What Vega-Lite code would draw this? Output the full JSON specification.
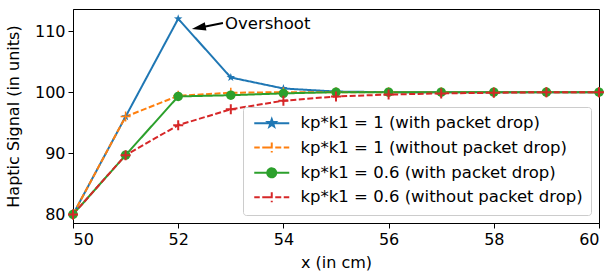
{
  "$schema": "https://vega.github.io/schema/vega-lite/v6.json",
  "width": 526,
  "height": 214,
  "autosize": "none",
  "padding": {"left": 73, "top": 9, "right": 14, "bottom": 55},
  "config": {
    "font": "DejaVu Sans",
    "view": {"stroke": "black", "strokeWidth": 1},
    "axis": {
      "grid": false,
      "domainColor": "black",
      "tickColor": "black",
      "labelColor": "black",
      "titleColor": "black",
      "labelFontSize": 16,
      "titleFontSize": 16,
      "titleFontWeight": "normal",
      "tickSize": 5,
      "labelPadding": 3
    }
  },
  "datasets": {
    "main": [
      {"x": 50, "y": 80, "s": "kp*k1 = 1 (with packet drop)"},
      {"x": 51, "y": 96, "s": "kp*k1 = 1 (with packet drop)"},
      {"x": 52, "y": 112, "s": "kp*k1 = 1 (with packet drop)"},
      {"x": 53, "y": 102.4, "s": "kp*k1 = 1 (with packet drop)"},
      {"x": 54, "y": 100.6, "s": "kp*k1 = 1 (with packet drop)"},
      {"x": 55, "y": 100.1, "s": "kp*k1 = 1 (with packet drop)"},
      {"x": 56, "y": 100, "s": "kp*k1 = 1 (with packet drop)"},
      {"x": 57, "y": 100, "s": "kp*k1 = 1 (with packet drop)"},
      {"x": 58, "y": 100, "s": "kp*k1 = 1 (with packet drop)"},
      {"x": 59, "y": 100, "s": "kp*k1 = 1 (with packet drop)"},
      {"x": 60, "y": 100, "s": "kp*k1 = 1 (with packet drop)"},
      {"x": 50, "y": 80, "s": "kp*k1 = 1 (without packet drop)"},
      {"x": 51, "y": 96, "s": "kp*k1 = 1 (without packet drop)"},
      {"x": 52, "y": 99.4, "s": "kp*k1 = 1 (without packet drop)"},
      {"x": 53, "y": 99.9, "s": "kp*k1 = 1 (without packet drop)"},
      {"x": 54, "y": 100, "s": "kp*k1 = 1 (without packet drop)"},
      {"x": 55, "y": 100, "s": "kp*k1 = 1 (without packet drop)"},
      {"x": 56, "y": 100, "s": "kp*k1 = 1 (without packet drop)"},
      {"x": 57, "y": 100, "s": "kp*k1 = 1 (without packet drop)"},
      {"x": 58, "y": 100, "s": "kp*k1 = 1 (without packet drop)"},
      {"x": 59, "y": 100, "s": "kp*k1 = 1 (without packet drop)"},
      {"x": 60, "y": 100, "s": "kp*k1 = 1 (without packet drop)"},
      {"x": 50, "y": 80, "s": "kp*k1 = 0.6 (with packet drop)"},
      {"x": 51, "y": 89.7, "s": "kp*k1 = 0.6 (with packet drop)"},
      {"x": 52, "y": 99.3, "s": "kp*k1 = 0.6 (with packet drop)"},
      {"x": 53, "y": 99.5, "s": "kp*k1 = 0.6 (with packet drop)"},
      {"x": 54, "y": 99.8, "s": "kp*k1 = 0.6 (with packet drop)"},
      {"x": 55, "y": 100, "s": "kp*k1 = 0.6 (with packet drop)"},
      {"x": 56, "y": 100, "s": "kp*k1 = 0.6 (with packet drop)"},
      {"x": 57, "y": 100, "s": "kp*k1 = 0.6 (with packet drop)"},
      {"x": 58, "y": 100, "s": "kp*k1 = 0.6 (with packet drop)"},
      {"x": 59, "y": 100, "s": "kp*k1 = 0.6 (with packet drop)"},
      {"x": 60, "y": 100, "s": "kp*k1 = 0.6 (with packet drop)"},
      {"x": 50, "y": 80, "s": "kp*k1 = 0.6 (without packet drop)"},
      {"x": 51, "y": 89.7, "s": "kp*k1 = 0.6 (without packet drop)"},
      {"x": 52, "y": 94.6, "s": "kp*k1 = 0.6 (without packet drop)"},
      {"x": 53, "y": 97.2, "s": "kp*k1 = 0.6 (without packet drop)"},
      {"x": 54, "y": 98.6, "s": "kp*k1 = 0.6 (without packet drop)"},
      {"x": 55, "y": 99.3, "s": "kp*k1 = 0.6 (without packet drop)"},
      {"x": 56, "y": 99.6, "s": "kp*k1 = 0.6 (without packet drop)"},
      {"x": 57, "y": 99.8, "s": "kp*k1 = 0.6 (without packet drop)"},
      {"x": 58, "y": 99.9, "s": "kp*k1 = 0.6 (without packet drop)"},
      {"x": 59, "y": 100, "s": "kp*k1 = 0.6 (without packet drop)"},
      {"x": 60, "y": 100, "s": "kp*k1 = 0.6 (without packet drop)"}
    ]
  },
  "encoding": {
    "x": {
      "field": "x", "type": "quantitative", "title": "x (in cm)",
      "scale": {"domain": [50, 60], "nice": false, "zero": false},
      "axis": {"values": [50, 52, 54, 56, 58, 60], "format": "d", "titlePadding": 7}
    },
    "y": {
      "field": "y", "type": "quantitative", "title": "Haptic Signal (in units)",
      "scale": {"domain": [78.6, 113.6], "nice": false, "zero": false},
      "axis": {"values": [80, 90, 100, 110], "format": "d", "titlePadding": 13}
    }
  },
  "layer": [
    {
      "data": {"name": "main"},
      "mark": {"type": "line", "strokeWidth": 2},
      "encoding": {
        "color": {
          "field": "s", "type": "nominal", "sort": null,
          "scale": {
            "domain": ["kp*k1 = 1 (with packet drop)", "kp*k1 = 1 (without packet drop)", "kp*k1 = 0.6 (with packet drop)", "kp*k1 = 0.6 (without packet drop)"],
            "range": ["#1f77b4", "#ff7f0e", "#2ca02c", "#d62728"]
          },
          "legend": {
            "title": null,
            "orient": "none",
            "legendX": 170,
            "legendY": 98,
            "padding": 8,
            "fillColor": "white",
            "strokeColor": "#cccccc",
            "cornerRadius": 3,
            "labelFontSize": 16.5,
            "labelColor": "black",
            "labelFont": "DejaVu Sans",
            "labelLimit": 400,
            "symbolSize": 100,
            "symbolStrokeWidth": 2,
            "labelOffset": 33,
            "rowPadding": 6.3,
            "encode": {
              "symbols": {
                "update": {
                  "shape": {"signal": "['M-1,0H6M2.5,-0.8L2.688,-0.259L3.261,-0.247L2.804,0.099L2.97,0.647L2.5,0.32L2.03,0.647L2.196,0.099L1.739,-0.247L2.312,-0.259Z', 'M-1,0H0.1M0.6,0H1.7M3.3,0H4.4M4.9,0H6M1.5,0H3.5M2.5,-1V1', 'M-1,0H1.6M3.4,0H6M1.6,0A0.9,0.9 0 1,0 3.4,0A0.9,0.9 0 1,0 1.6,0Z', 'M-1,0H0.1M0.6,0H1.7M3.3,0H4.4M4.9,0H6M1.5,0H3.5M2.5,-1V1'][indexof(domain('color'), datum.value)]"},
                  "fill": {"signal": "scale('color', datum.value)"},
                  "stroke": {"signal": "scale('color', datum.value)"},
                  "strokeDash": {"value": [1, 0]},
                  "strokeWidth": {"value": 2},
                  "opacity": {"value": 1}
                }
              }
            }
          }
        },
        "strokeDash": {
          "field": "s", "type": "nominal", "legend": null,
          "scale": {
            "domain": ["kp*k1 = 1 (with packet drop)", "kp*k1 = 1 (without packet drop)", "kp*k1 = 0.6 (with packet drop)", "kp*k1 = 0.6 (without packet drop)"],
            "range": [[1, 0], [6, 2.5], [1, 0], [6, 2.5]]
          }
        }
      }
    },
    {
      "data": {"name": "main"},
      "transform": [{"filter": {"field": "s", "equal": "kp*k1 = 1 (with packet drop)"}}],
      "mark": {"type": "point", "filled": true, "opacity": 1, "color": "#1f77b4", "size": 80, "shape": "M0,-1L0.235,-0.324L0.951,-0.309L0.38,0.124L0.588,0.809L0,0.4L-0.588,0.809L-0.38,0.124L-0.951,-0.309L-0.235,-0.324Z"},
      "encoding": {}
    },
    {
      "data": {"name": "main"},
      "transform": [{"filter": {"field": "s", "equal": "kp*k1 = 1 (without packet drop)"}}],
      "mark": {"type": "point", "filled": false, "opacity": 1, "color": "#ff7f0e", "size": 100, "strokeWidth": 1.5, "shape": "M-1,0H1M0,-1V1"},
      "encoding": {}
    },
    {
      "data": {"name": "main"},
      "transform": [{"filter": {"field": "s", "equal": "kp*k1 = 0.6 (with packet drop)"}}],
      "mark": {"type": "point", "filled": true, "opacity": 1, "color": "#2ca02c", "size": 90, "shape": "circle"},
      "encoding": {}
    },
    {
      "data": {"name": "main"},
      "transform": [{"filter": {"field": "s", "equal": "kp*k1 = 0.6 (without packet drop)"}}],
      "mark": {"type": "point", "filled": false, "opacity": 1, "color": "#d62728", "size": 100, "strokeWidth": 2, "shape": "M-1,0H1M0,-1V1"},
      "encoding": {}
    },
    {
      "data": {"values": [{"x": 52.85, "y": 111.3, "x2": 52.4, "y2": 110.55}]},
      "mark": {"type": "rule", "color": "black", "strokeWidth": 2},
      "encoding": {
        "x2": {"field": "x2"},
        "y2": {"field": "y2"}
      }
    },
    {
      "data": {"values": [{"x": 52.26, "y": 110.33}]},
      "mark": {"type": "point", "filled": true, "color": "black", "opacity": 1, "size": 196, "angle": -11, "shape": "M0,0L2,-0.6L2,0.6Z"},
      "encoding": {}
    },
    {
      "data": {"values": [{"x": 52.89, "y": 111.15, "t": "Overshoot"}]},
      "mark": {"type": "text", "align": "left", "baseline": "middle", "fontSize": 16.5, "color": "black"},
      "encoding": {"text": {"field": "t"}}
    }
  ]
}
